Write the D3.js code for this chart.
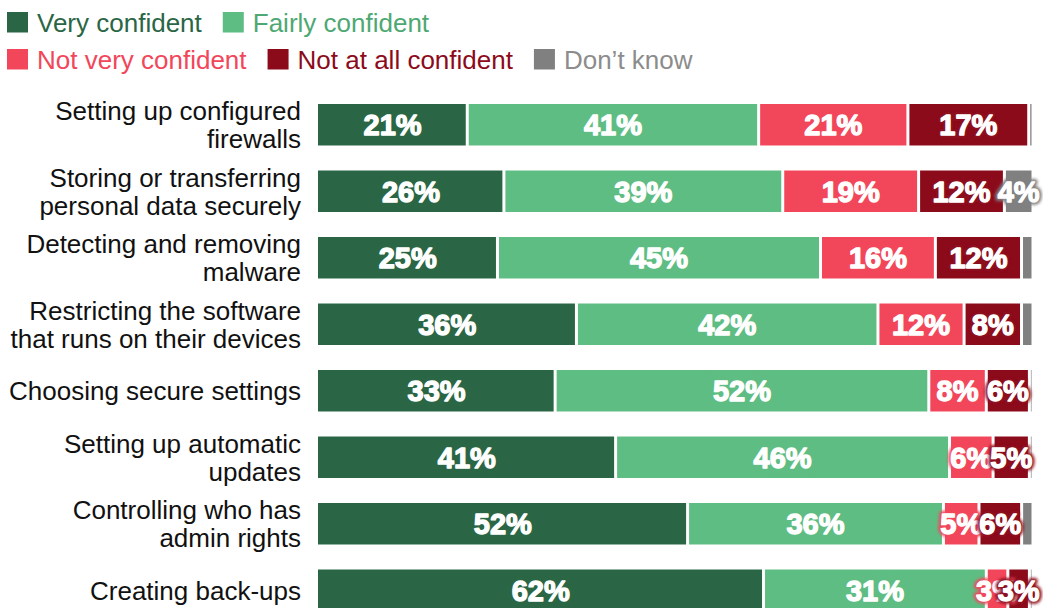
<!DOCTYPE html>
<html>
<head>
<meta charset="utf-8">
<script src="https://cdn.jsdelivr.net/npm/d3@7"></script>
<style>
  body { margin: 0; background: #ffffff; }
  svg { display: block; }
</style>
</head>
<body>
<svg id="chart" width="1043" height="608"></svg>
<script>
// Categories (line breaks mark where a label wraps)
const categories = [
  "Setting up configured\nfirewalls",
  "Storing or transferring\npersonal data securely",
  "Detecting and removing\nmalware",
  "Restricting the software\nthat runs on their devices",
  "Choosing secure settings",
  "Setting up automatic\nupdates",
  "Controlling who has\nadmin rights",
  "Creating back-ups"
];

const seriesNames = ["Very confident", "Fairly confident", "Not very confident", "Not at all confident", "Don\u2019t know"];

// Share of respondents (%) per category
const veryConfident     = [21, 26, 25, 36, 33, 41, 52, 62];
const fairlyConfident   = [41, 39, 45, 42, 52, 46, 36, 31];
const notVeryConfident  = [21, 19, 16, 12,  8,  6,  5,  3];
const notAtAllConfident = [17, 12, 12,  8,  6,  5,  6,  3];
const dontKnow          = [0.6, 4, 1.6, 1.6, 0.5, 0.5, 1.6, 0.5];

const seriesValues = [veryConfident, fairlyConfident, notVeryConfident, notAtAllConfident, dontKnow];

const barColors  = ["#2a6645", "#5ebd83", "#f2465a", "#8c0b1b", "#808080"];
const textColors = ["#2a6645", "#4ea872", "#f2465a", "#8c0b1b", "#8c8c8c"];

const rows = categories.map((c, i) => {
  const r = { category: c };
  seriesNames.forEach((s, k) => { r[s] = seriesValues[k][i]; });
  return r;
});

const stacked = d3.stack()
  .keys(seriesNames)
  .offset(d3.stackOffsetExpand)(rows);

const svg = d3.select("#chart");

const x = d3.scaleLinear().domain([0, 1]).range([318, 1033]);
const y = d3.scaleBand()
  .domain(categories)
  .range([91.5, 623.5])
  .paddingInner(0.376)
  .paddingOuter(0.188);

// Blur used for the coloured halo behind value labels
const defs = svg.append("defs");
defs.append("filter")
  .attr("id", "halo")
  .attr("x", "-20%").attr("y", "-40%")
  .attr("width", "140%").attr("height", "180%")
  .append("feGaussianBlur")
  .attr("stdDeviation", 1.4);

// Category axis
const yAxis = svg.append("g")
  .attr("transform", `translate(${x(0)},0)`)
  .call(d3.axisLeft(y).tickSize(0).tickPadding(17));
yAxis.select(".domain").remove();
const lineH = 28;
yAxis.selectAll(".tick text")
  .attr("font-family", "'Liberation Sans', Arial, sans-serif")
  .attr("font-size", 26)
  .attr("fill", "#111")
  .attr("dy", null)
  .each(function (d) {
    const t = d3.select(this);
    const lines = d.split("\n");
    t.text(null);
    lines.forEach((ln, j) => {
      t.append("tspan")
        .attr("x", -17)
        .attr("y", -(lines.length - 1) * lineH / 2 + j * lineH + 9.5)
        .text(ln);
    });
  });

// Bars
const layers = svg.append("g")
  .selectAll("g")
  .data(stacked)
  .join("g")
  .attr("fill", (d, i) => barColors[i]);

layers.selectAll("rect")
  .data(d => d)
  .join("rect")
  .attr("x", d => x(d[0]) + (d[0] > 0 ? 1.5 : 0))
  .attr("width", d => Math.max(0, x(d[1]) - x(d[0]) - 1.5 - (d[0] > 0 ? 1.5 : 0)))
  .attr("y", d => y(d.data.category))
  .attr("height", y.bandwidth());

// Value labels
const labels = [];
stacked.forEach((layer, k) => {
  layer.forEach((d, i) => {
    const v = seriesValues[k][i];
    if (v >= 3) {
      labels.push({
        k, v,
        cx: (x(d[0]) + x(d[1])) / 2,
        cy: y(d.data.category) + y.bandwidth() / 2
      });
    }
  });
});

const lab = svg.append("g")
  .attr("font-family", "'Liberation Sans', Arial, sans-serif")
  .attr("font-weight", "bold")
  .attr("font-size", 29)
  .attr("text-anchor", "middle");

labels.forEach(l => {
  lab.append("text")
    .attr("x", l.cx).attr("y", l.cy).attr("dy", "0.36em")
    .attr("fill", barColors[l.k])
    .attr("stroke", barColors[l.k])
    .attr("stroke-width", 6)
    .attr("stroke-linejoin", "round")
    .attr("filter", "url(#halo)")
    .text(l.v + "%");
  lab.append("text")
    .attr("x", l.cx).attr("y", l.cy).attr("dy", "0.36em")
    .attr("fill", "#ffffff")
    .attr("stroke", "#ffffff")
    .attr("stroke-width", 1.3)
    .attr("stroke-linejoin", "round")
    .text(l.v + "%");
});

// Legend in two rows
const legendRows = [[0, 1], [2, 3, 4]];
const legendBase = [31.5, 68.5];
const legend = svg.append("g");
legendRows.forEach((items, r) => {
  let cx = 7;
  items.forEach(k => {
    const g = legend.append("g");
    g.append("rect")
      .attr("x", cx).attr("y", legendBase[r] - 19.5)
      .attr("width", 21).attr("height", 20.5)
      .attr("fill", barColors[k]);
    const tx = cx + 30;
    const t = g.append("text")
      .attr("x", tx).attr("y", legendBase[r])
      .attr("font-family", "'Liberation Sans', Arial, sans-serif")
      .attr("font-size", 26)
      .attr("fill", textColors[k])
      .text(seriesNames[k]);
    const w = t.node().getComputedTextLength();
    cx = tx + w + 21;
  });
});
</script>
</body>
</html>
